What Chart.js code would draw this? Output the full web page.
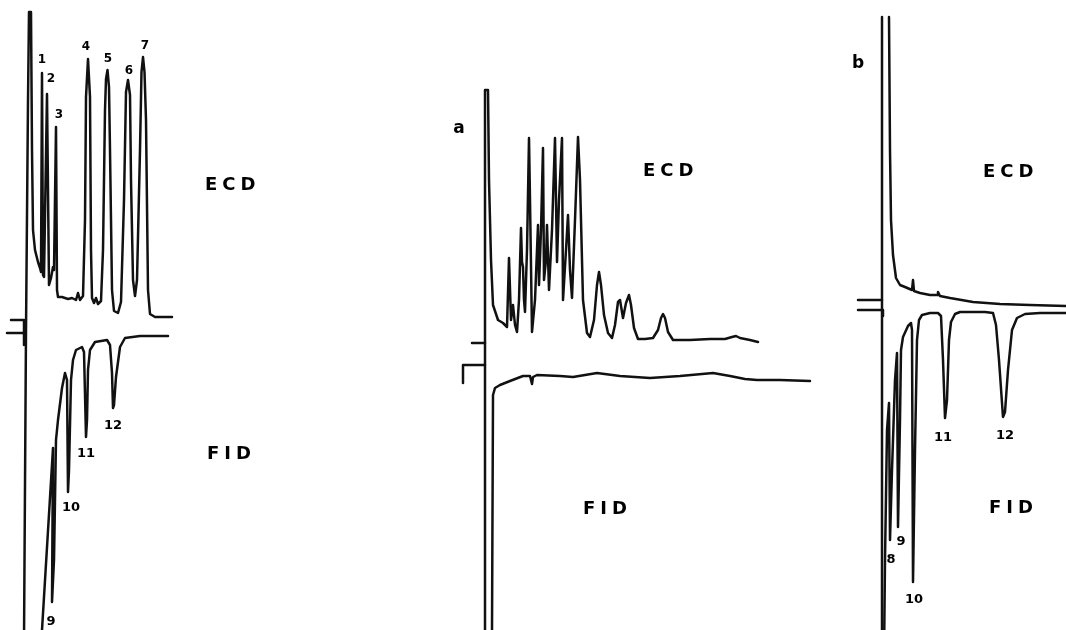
<!DOCTYPE html>
<html>
<head>
<meta charset="utf-8">
<script src="https://cdn.jsdelivr.net/npm/chart.js@4.4.1/dist/chart.umd.min.js"></script>
<style>
  html,body{margin:0;padding:0;background:#fff;}
  #wrap{position:relative;width:1066px;height:630px;overflow:hidden;}
  #c{position:absolute;left:0;top:0;}
  .lbl{position:absolute;font-family:"DejaVu Sans",sans-serif;font-weight:bold;color:#000;line-height:1;transform:translateY(-50%);white-space:nowrap;}
  .big{font-size:18px;letter-spacing:5px;}
  .num{font-size:13px;transform:translate(-50%,-50%);}
  .sm{font-size:12px;transform:translate(-50%,-50%);}
  .let{font-size:17px;transform:translate(-50%,-50%);}
</style>
</head>
<body>
<div id="wrap">
<canvas id="c" width="1066" height="630"></canvas>
</div>
<script>
// ---------- DATA: [retention time, detector signal] (arbitrary chart units) ----------
// Panel 1 – standard mixture, peaks 1-7 (ECD) and 9-12 (FID)
const ecd1 = [[-2,-323],[0,-13],[2,217],[3,305],[5,305],[6,167],[7,87],[9,67],[12,55],[14,49],[15,45],
  [16,244],[17,42],[18,40],[21,223],[23,32],[25,39],[27,50],[28,47],[30,190],[31,27],[32,20],[36,20],
  [42,18],[46,19],[50,17],[52,24],[54,17],[57,21],[59,97],[60,220],[62,258],[64,220],[65,67],[66,19],[68,14],
  [70,19],[72,13],[75,16],[77,67],[79,207],[80,238],[81.5,247],[83,230],[84,167],[86,27],[88,6],[92,4],[95,15],
  [98,117],[100,225],[102,237],[104,222],[105,137],[107,37],[109,21],[111,37],[114,167],[115.5,245],[117,260],
  [118.5,245],[120,197],[122,27],[124,3],[129,0],[146,0]];
const fid1 = [[14,-324],[16,-294],[27,-112],[26,-266],[28,-224],[30,-104],[32,-84],[36,-52],[39,-37],
  [41,-44],[42,-156],[43,-134],[45,-44],[47,-24],[50,-14],[56,-11],[58,-16],[60,-101],[61,-84],[62,-34],
  [64,-14],[69,-6],[81,-4],[84,-9],[86,-37],[87,-72],[88,-69],[90,-41],[94,-11],[99,-2],[114,0],[142,0]];
const ecd1Zero = [[-15,-3],[-2,-3],[-2,-28]];
const fid1Zero = [[-19,3],[-2,3]];

// Panel 2 – sample a
const ecd2 = [[0,-290],[0,250],[3,250],[4,160],[6,80],[8,35],[13,20],[18,17],[22,13],[24,82],[26,20],
  [28,35],[30,15],[32,8],[34,40],[36,112],[37,78],[38,73],[39,40],[40,28],[42,90],[44,202],[45,140],
  [47,8],[50,40],[53,115],[54,55],[56,110],[58,192],[59,60],[61,80],[62,115],[64,50],[67,110],[70,202],
  [71,140],[72,78],[74,140],[77,202],[78,40],[81,90],[83,125],[85,70],[87,42],[90,120],[93,203],[95,160],
  [98,40],[102,7],[105,3],[109,20],[112,55],[114,68],[116,55],[119,25],[123,7],[127,2],[130,15],[133,38],
  [135,40],[138,22],[141,37],[144,45],[146,35],[149,12],[153,1],[160,1],[168,2],[173,10],[176,22],
  [178,26],[180,22],[183,8],[188,0],[205,0],[225,1],[240,1],[247,3],[251,4],[255,2],[265,0],[273,-2]];
const fid2 = [[6,-284],[7,-254],[8,-19],[10,-12],[15,-9],[25,-5],[38,0],[45,0],[47,-8],[48,-1],[52,1],
  [75,0],[88,-1],[112,3],[135,0],[165,-2],[195,0],[228,3],[245,0],[260,-3],[272,-4],[295,-4],[325,-5]];
const ecd2Zero = [[-13,-3],[0,-3]];
const fid2Zero = [[-22,-7],[-22,11],[0,11]];

// Panel 3 – sample b
const ecd3 = [[0,-355],[0,288],[0,null],[7,288],[8,155],[9,85],[11,50],[14,27],[18,20],[23,18],[30,15],
  [31,25],[32,14],[38,12],[48,10],[55,10],[56,13],[58,9],[68,7],[91,3],[118,1],[148,0],[184,-1]];
const fid3 = [[2,-347],[3,-247],[5,-117],[7,-90],[8,-227],[10,-157],[13,-67],[15,-40],[16,-214],[18,-107],
  [19,-37],[21,-24],[26,-13],[29,-10],[30,-17],[31,-269],[33,-137],[35,-27],[37,-7],[40,-2],[48,0],[56,0],
  [59,-3],[61,-47],[63,-105],[65,-87],[67,-27],[69,-9],[73,-1],[78,1],[103,1],[111,0],[114,-12],[117,-47],
  [121,-104],[123,-99],[126,-57],[130,-17],[135,-5],[143,-1],[158,0],[184,0]];
const ecd3Zero = [[-24,5],[0,5]];
const fid3Zero = [[-24,3],[1,3],[1,-3]];

// ---------- LABELS ----------
const labels = [
  {t:"1",x:42,y:59,c:"sm"},{t:"2",x:51,y:78,c:"sm"},{t:"3",x:59,y:114,c:"sm"},{t:"4",x:86,y:46,c:"sm"},
  {t:"5",x:108,y:58,c:"sm"},{t:"6",x:129,y:70,c:"sm"},{t:"7",x:145,y:45,c:"sm"},
  {t:"ECD",x:205,y:184,c:"big"},{t:"FID",x:207,y:453,c:"big"},
  {t:"9",x:51,y:620,c:"num"},{t:"10",x:71,y:506,c:"num"},{t:"11",x:86,y:452,c:"num"},{t:"12",x:113,y:424,c:"num"},
  {t:"a",x:459,y:127,c:"let"},{t:"ECD",x:643,y:170,c:"big"},{t:"FID",x:583,y:508,c:"big"},
  {t:"b",x:858,y:62,c:"let"},{t:"ECD",x:983,y:171,c:"big"},{t:"FID",x:989,y:507,c:"big"},
  {t:"8",x:891,y:558,c:"num"},{t:"9",x:901,y:540,c:"num"},{t:"10",x:914,y:598,c:"num"},
  {t:"11",x:943,y:436,c:"num"},{t:"12",x:1005,y:434,c:"num"}
];

// ---------- LAYOUT (panel origins on the page) ----------
const W = 1066, H = 630;
const panels = [
  {id:1, x0:26,  ecdBase:317, fidBase:336},
  {id:2, x0:485, ecdBase:340, fidBase:376},
  {id:3, x0:882, ecdBase:305, fidBase:313}
];
const series = {
  1:{ecd:ecd1,fid:fid1,ez:ecd1Zero,fz:fid1Zero},
  2:{ecd:ecd2,fid:fid2,ez:ecd2Zero,fz:fid2Zero},
  3:{ecd:ecd3,fid:fid3,ez:ecd3Zero,fz:fid3Zero}
};

const toPts = arr => arr.map(p => ({x:p[0], y:p[1]}));
const scales = {};
const datasets = [];
panels.forEach(p => {
  scales['x'+p.id] = {type:'linear', axis:'x', position:'bottom', display:false, min:-p.x0, max:W-p.x0};
  scales['e'+p.id] = {type:'linear', axis:'y', position:'left', display:false, min:p.ecdBase-H, max:p.ecdBase};
  scales['f'+p.id] = {type:'linear', axis:'y', position:'left', display:false, min:p.fidBase-H, max:p.fidBase};
  const s = series[p.id];
  [['ecd','e'],['ez','e'],['fid','f'],['fz','f']].forEach(([k,ax]) => {
    datasets.push({
      label: k+p.id, data: toPts(s[k]), xAxisID:'x'+p.id, yAxisID: ax+p.id,
      showLine:true, pointRadius:0, borderColor:'#111', borderWidth:2.5,
      borderJoinStyle:'round', borderCapStyle:'round', tension:0, spanGaps:false, fill:false
    });
  });
});

new Chart(document.getElementById('c'), {
  type:'scatter',
  data:{datasets},
  options:{
    responsive:false, animation:false, devicePixelRatio:1,
    layout:{padding:0},
    plugins:{legend:{display:false}, tooltip:{enabled:false}},
    scales
  }
});

const wrap = document.getElementById('wrap');
labels.forEach(l => {
  const d = document.createElement('div');
  d.className = 'lbl ' + l.c;
  d.textContent = l.t;
  d.style.left = l.x + 'px';
  d.style.top = l.y + 'px';
  wrap.appendChild(d);
});
</script>
</body>
</html>
